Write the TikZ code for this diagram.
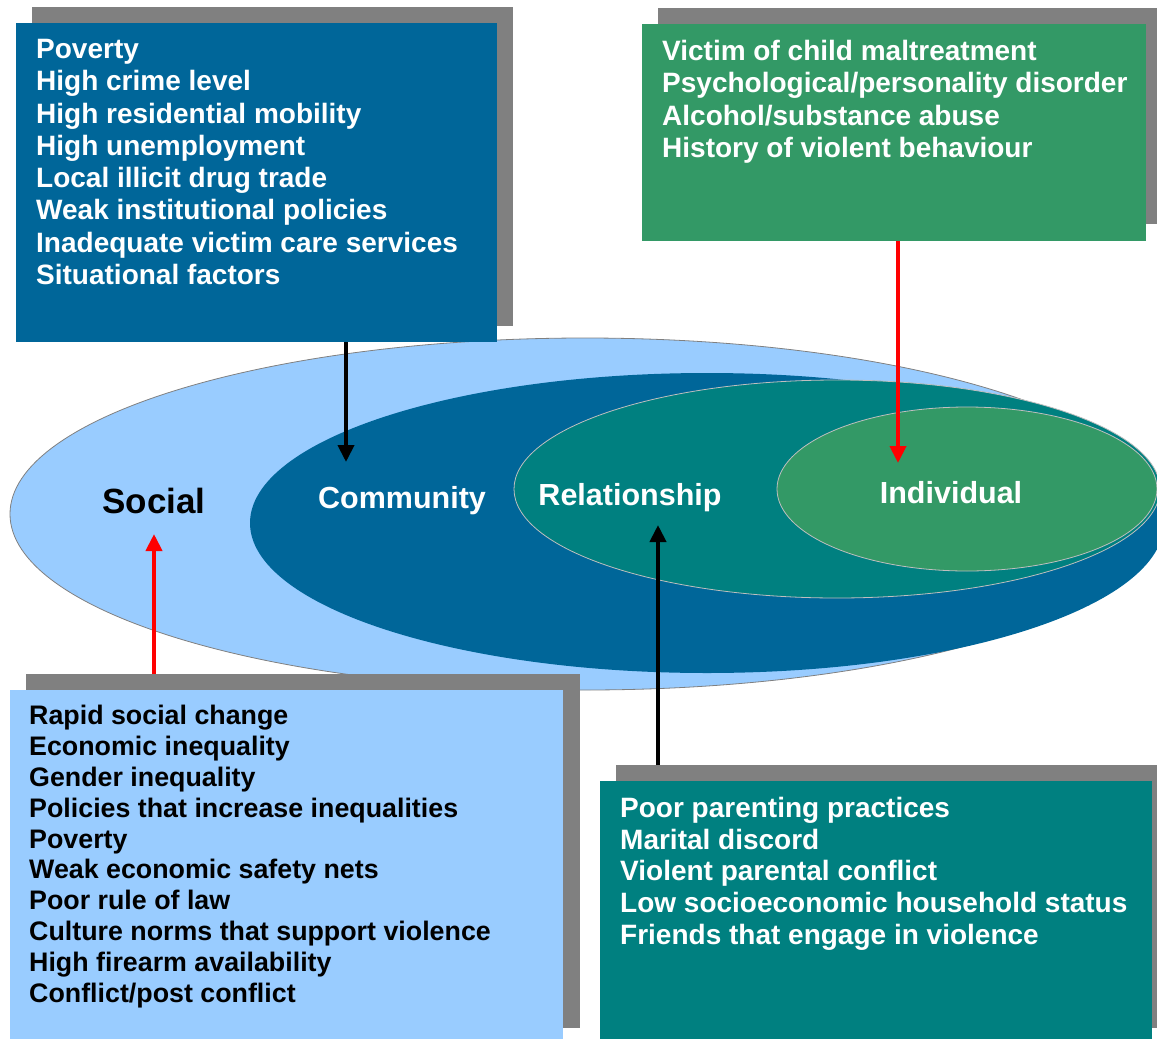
\documentclass[tikz,border=0pt]{standalone}
\usepackage{fontspec}
\setmainfont{Liberation Sans}
\usetikzlibrary{arrows.meta,positioning}
\definecolor{commblue}{RGB}{0,102,153}
\definecolor{indgreen}{RGB}{51,153,102}
\definecolor{relteal}{RGB}{0,128,128}
\definecolor{socblue}{RGB}{153,204,255}
\definecolor{shadowgray}{RGB}{128,128,128}

\begin{document}
\begin{tikzpicture}[x=1pt,y=-1pt,
	shadowbox/.style={fill=shadowgray,anchor=north west,inner sep=0pt},
	listbox/.style={anchor=north west,inner sep=0pt},
	listtext/.style={anchor=north west,inner sep=0pt,align=left,
		font=\bfseries\fontsize{28}{32.3}\selectfont},
	level/.style={anchor=base,inner sep=0pt,
		font=\bfseries\fontsize{30.5}{36}\selectfont},
	link/.style={line width=4pt,-{Triangle[length=17pt,width=16pt]}},
	rim/.style={draw=gray!50,line width=0.8pt}]
	\useasboundingbox (0,0) rectangle (1157,1039);
	\clip (0,0) rectangle (1157,1039);
	\filldraw[fill=socblue,draw=shadowgray,line width=0.8pt] (585,514) ellipse [x radius=575,y radius=176];
	\fill[commblue] (707,523) ellipse [x radius=457,y radius=150];
	\filldraw[fill=relteal,rim] (837,489) ellipse [x radius=323,y radius=109];
	\filldraw[fill=indgreen,rim] (967,489) ellipse [x radius=190,y radius=82];
	\node[level] (social) at (154,513) {\fontsize{35}{40}\selectfont Social};
	\node[level,text=white] (community) at (402,508) {Community};
	\node[level,text=white] (relationship) at (630,505) {Relationship};
	\node[level,text=white] (individual) at (951,503) {Individual};
	\node[shadowbox,minimum width=481pt,minimum height=319pt] (commshadow) at (32,7) {};
	\node[listbox,fill=commblue,minimum width=481pt,minimum height=319pt] (commbox) at (16,23) {};
	\node[listtext,text=white] (commlist) at ([xshift=20pt,yshift=-16pt]commbox.north west)
		{Poverty\\High crime level\\High residential mobility\\High unemployment\\Local illicit drug trade\\Weak institutional policies\\Inadequate victim care services\\Situational factors};
	\node[shadowbox,minimum width=499pt,minimum height=216pt] (indshadow) at (658,8) {};
	\node[listbox,fill=indgreen,minimum width=504pt,minimum height=217pt] (indbox) at (642,24) {};
	\node[listtext,text=white] (indlist) at ([xshift=20pt,yshift=-16pt]indbox.north west)
		{Victim of child maltreatment\\Psychological/personality disorder\\Alcohol/substance abuse\\History of violent behaviour};
	\node[shadowbox,minimum width=554pt,minimum height=354pt] (socshadow) at (26,674) {};
	\node[listbox,fill=socblue,minimum width=553pt,minimum height=360pt] (socbox) at (10,690) {};
	\node[listtext,font=\bfseries\fontsize{26.8}{30.85}\selectfont] (soclist) at ([xshift=19pt,yshift=-15pt]socbox.north west)
		{Rapid social change\\Economic inequality\\Gender inequality\\Policies that increase inequalities\\Poverty\\Weak economic safety nets\\Poor rule of law\\Culture norms that support violence\\High firearm availability\\Conflict/post conflict};
	\node[shadowbox,minimum width=545pt,minimum height=263pt] (relshadow) at (616,765) {};
	\node[listbox,fill=relteal,minimum width=552pt,minimum height=270pt] (relbox) at (600,781) {};
	\node[listtext,text=white,font=\bfseries\fontsize{28}{31.7}\selectfont] (rellist) at ([xshift=20pt,yshift=-16pt]relbox.north west)
		{Poor parenting practices\\Marital discord\\Violent parental conflict\\Low socioeconomic household status\\Friends that engage in violence};
	\coordinate (commtip) at (346,462);
	\coordinate (indtip) at (898,463);
	\coordinate (soctip) at (154,534);
	\coordinate (reltip) at (658,525);
	\draw[link] (commbox.south -| commtip) -- (commtip);
	\draw[link,red] (indbox.south -| indtip) -- (indtip);
	\draw[link,red] (socshadow.north -| soctip) -- (soctip);
	\draw[link] (relshadow.north -| reltip) -- (reltip);
\end{tikzpicture}
\end{document}
